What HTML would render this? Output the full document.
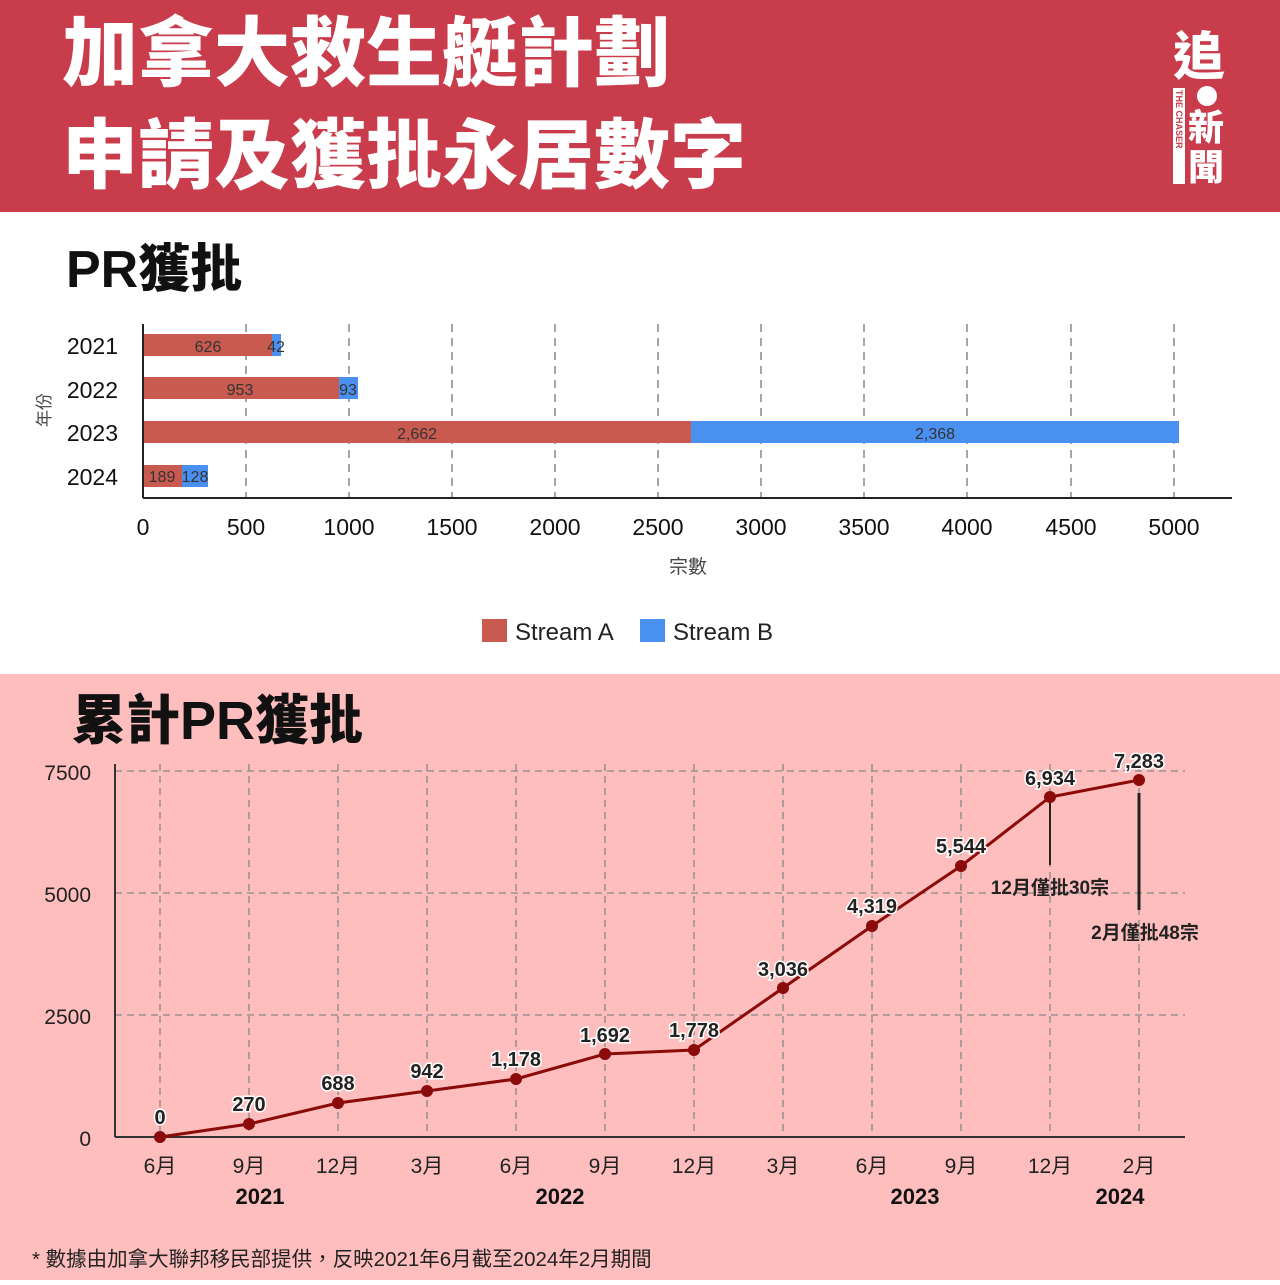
<!DOCTYPE html>
<html><head><meta charset="utf-8"><style>
body{margin:0;width:1280px;height:1280px;overflow:hidden;font-family:"Liberation Sans","Noto Sans CJK TC",sans-serif;}
</style></head><body>
<svg width="1280" height="1280" xmlns="http://www.w3.org/2000/svg" font-family="Liberation Sans, Noto Sans CJK TC, sans-serif">
<rect x="0" y="0" width="1280" height="212" fill="#c93c4b"/>
<rect x="0" y="212" width="1280" height="462" fill="#fff"/>
<rect x="0" y="674" width="1280" height="606" fill="#fdbebd"/>
<text x="62" y="80" font-size="76" font-weight="900" fill="#fff">加拿大救生艇計劃</text>
<text x="62" y="182" font-size="76" font-weight="900" fill="#fff">申請及獲批永居數字</text>
<text x="1173" y="75" font-size="52" font-weight="900" fill="#fff">追</text>
<circle cx="1207" cy="96" r="10" fill="#fff"/>
<rect x="1173" y="88" width="12" height="96" fill="#fff"/>
<text transform="translate(1176,90) rotate(90)" font-size="9" font-weight="bold" fill="#c93c4b">THE CHASER</text>
<text x="1188" y="140" font-size="36" font-weight="900" fill="#fff">新</text>
<text x="1188" y="180" font-size="36" font-weight="900" fill="#fff">聞</text>
<text x="66" y="287" font-size="52" font-weight="900" fill="#111">PR獲批</text>
<g stroke="#888" stroke-dasharray="8,6" stroke-width="1.5">
<line x1="246" y1="324" x2="246" y2="498"/><line x1="349" y1="324" x2="349" y2="498"/><line x1="452" y1="324" x2="452" y2="498"/><line x1="555" y1="324" x2="555" y2="498"/><line x1="658" y1="324" x2="658" y2="498"/><line x1="761" y1="324" x2="761" y2="498"/><line x1="864" y1="324" x2="864" y2="498"/><line x1="967" y1="324" x2="967" y2="498"/><line x1="1071" y1="324" x2="1071" y2="498"/><line x1="1174" y1="324" x2="1174" y2="498"/>
</g>
<g fill="#c95a50"><rect x="143" y="334" width="129" height="22"/><rect x="143" y="377" width="196" height="22"/><rect x="143" y="421" width="548" height="22"/><rect x="143" y="465" width="39" height="22"/></g>
<g fill="#4a90f0"><rect x="272" y="334" width="9" height="22"/><rect x="339" y="377" width="19" height="22"/><rect x="691" y="421" width="488" height="22"/><rect x="182" y="465" width="26" height="22"/></g>
<g font-size="16" fill="#333" text-anchor="middle"><text x="208" y="352">626</text><text x="276" y="352">42</text><text x="240" y="395">953</text><text x="348" y="395">93</text><text x="417" y="439">2,662</text><text x="935" y="439">2,368</text><text x="162" y="482">189</text><text x="195" y="482">128</text></g>
<line x1="143" y1="324" x2="143" y2="498" stroke="#222" stroke-width="2"/>
<line x1="143" y1="498" x2="1232" y2="498" stroke="#222" stroke-width="2"/>
<g font-size="23" fill="#111" text-anchor="end"><text x="118" y="354">2021</text><text x="118" y="398">2022</text><text x="118" y="441">2023</text><text x="118" y="485">2024</text></g>
<text transform="translate(50,410) rotate(-90)" font-size="17" fill="#444" text-anchor="middle">年份</text>
<g font-size="23" fill="#111" text-anchor="middle"><text x="143" y="535">0</text><text x="246" y="535">500</text><text x="349" y="535">1000</text><text x="452" y="535">1500</text><text x="555" y="535">2000</text><text x="658" y="535">2500</text><text x="761" y="535">3000</text><text x="864" y="535">3500</text><text x="967" y="535">4000</text><text x="1071" y="535">4500</text><text x="1174" y="535">5000</text></g>
<text x="688" y="573" font-size="19" fill="#444" text-anchor="middle">宗數</text>
<rect x="482" y="619" width="25" height="23" fill="#c95a50"/><text x="515" y="640" font-size="24" fill="#222">Stream A</text>
<rect x="640" y="619" width="25" height="23" fill="#4a90f0"/><text x="673" y="640" font-size="24" fill="#222">Stream B</text>
<text x="72" y="739" font-size="54" font-weight="900" fill="#111">累計PR獲批</text>
<g stroke="#888" stroke-dasharray="7,5" stroke-width="1.3">
<line x1="115" y1="771" x2="1185" y2="771"/><line x1="115" y1="893" x2="1185" y2="893"/><line x1="115" y1="1015" x2="1185" y2="1015"/>
<line x1="160" y1="764" x2="160" y2="1137"/><line x1="249" y1="764" x2="249" y2="1137"/><line x1="338" y1="764" x2="338" y2="1137"/><line x1="427" y1="764" x2="427" y2="1137"/><line x1="516" y1="764" x2="516" y2="1137"/><line x1="605" y1="764" x2="605" y2="1137"/><line x1="694" y1="764" x2="694" y2="1137"/><line x1="783" y1="764" x2="783" y2="1137"/><line x1="872" y1="764" x2="872" y2="1137"/><line x1="961" y1="764" x2="961" y2="1137"/><line x1="1050" y1="764" x2="1050" y2="1137"/><line x1="1139" y1="764" x2="1139" y2="1137"/>
</g>
<line x1="115" y1="764" x2="115" y2="1137" stroke="#333" stroke-width="2"/>
<line x1="115" y1="1137" x2="1185" y2="1137" stroke="#333" stroke-width="2"/>
<g font-size="21" fill="#222" text-anchor="end"><text x="91" y="780">7500</text><text x="91" y="902">5000</text><text x="91" y="1024">2500</text><text x="91" y="1146">0</text></g>
<polyline fill="none" stroke="#8b0a0a" stroke-width="3" points="160,1137 249,1124 338,1103 427,1091 516,1079 605,1054 694,1050 783,988 872,926 961,866 1050,797 1139,780"/>
<g fill="#8b0a0a"><circle cx="160" cy="1137" r="6"/><circle cx="249" cy="1124" r="6"/><circle cx="338" cy="1103" r="6"/><circle cx="427" cy="1091" r="6"/><circle cx="516" cy="1079" r="6"/><circle cx="605" cy="1054" r="6"/><circle cx="694" cy="1050" r="6"/><circle cx="783" cy="988" r="6"/><circle cx="872" cy="926" r="6"/><circle cx="961" cy="866" r="6"/><circle cx="1050" cy="797" r="6"/><circle cx="1139" cy="780" r="6"/></g>
<g font-size="20" font-weight="bold" fill="#222" text-anchor="middle" stroke="#fff" stroke-width="3" paint-order="stroke">
<text x="160" y="1124">0</text><text x="249" y="1111">270</text><text x="338" y="1090">688</text><text x="427" y="1078">942</text><text x="516" y="1066">1,178</text><text x="605" y="1042">1,692</text><text x="694" y="1037">1,778</text><text x="783" y="976">3,036</text><text x="872" y="913">4,319</text><text x="961" y="853">5,544</text><text x="1050" y="785">6,934</text><text x="1139" y="768">7,283</text></g>
<line x1="1050" y1="803" x2="1050" y2="865" stroke="#222" stroke-width="2"/>
<line x1="1139" y1="793" x2="1139" y2="910" stroke="#222" stroke-width="3"/>
<text x="1050" y="894" font-size="19" font-weight="bold" fill="#222" text-anchor="middle">12月僅批30宗</text>
<text x="1145" y="939" font-size="19" font-weight="bold" fill="#222" text-anchor="middle">2月僅批48宗</text>
<g font-size="21" fill="#222" text-anchor="middle"><text x="160" y="1173">6月</text><text x="249" y="1173">9月</text><text x="338" y="1173">12月</text><text x="427" y="1173">3月</text><text x="516" y="1173">6月</text><text x="605" y="1173">9月</text><text x="694" y="1173">12月</text><text x="783" y="1173">3月</text><text x="872" y="1173">6月</text><text x="961" y="1173">9月</text><text x="1050" y="1173">12月</text><text x="1139" y="1173">2月</text></g>
<g font-size="22" font-weight="bold" fill="#111" text-anchor="middle"><text x="260" y="1204">2021</text><text x="560" y="1204">2022</text><text x="915" y="1204">2023</text><text x="1120" y="1204">2024</text></g>
<text x="32" y="1266" font-size="20.5" fill="#222">* 數據由加拿大聯邦移民部提供，反映2021年6月截至2024年2月期間</text>
</svg>
</body></html>
